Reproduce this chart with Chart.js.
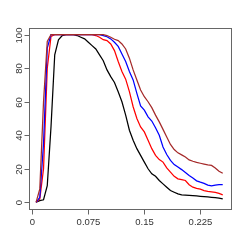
<!DOCTYPE html>
<html>
<head>
<meta charset="utf-8">
<script src="https://cdn.jsdelivr.net/npm/chart.js@4"></script>
<style>
  html, body { margin: 0; padding: 0; background: #fff; }
  #wrap { width: 245px; height: 245px; }
</style>
</head>
<body>
<div id="wrap"><canvas id="chart" width="245" height="245"></canvas></div>
<script>
// ------------------ Data ------------------
const xValues = [0.005, 0.010, 0.015, 0.020, 0.025, 0.030, 0.035, 0.040, 0.045, 0.050,
  0.055, 0.060, 0.065, 0.070, 0.075, 0.080, 0.085, 0.090, 0.095, 0.100,
  0.105, 0.110, 0.115, 0.120, 0.125, 0.130, 0.135, 0.140, 0.145, 0.150,
  0.155, 0.160, 0.165, 0.170, 0.175, 0.180, 0.185, 0.190, 0.195, 0.200,
  0.205, 0.210, 0.215, 0.220, 0.225, 0.230, 0.235, 0.240, 0.245, 0.250, 0.255];

const blackSeries = [0, 1, 1.5, 10, 45, 88, 97, 99.5, 100, 100,
  100, 99.5, 98.5, 97.5, 95.5, 93.5, 91.5, 88, 84.5, 79,
  75, 71.5, 66, 60, 52, 43, 37, 32, 28, 24,
  20, 17, 15.5, 13, 11, 9, 7, 6, 5, 4.4,
  4.3, 4.2, 4, 3.8, 3.6, 3.4, 3.2, 3, 2.8, 2.5, 2];

const redSeries = [0, 2, 20, 80, 99, 100, 100, 100, 100, 100,
  100, 100, 100, 100, 100, 100, 99.5, 98.5, 97, 96.5,
  94.5, 90.5, 84, 78, 73.5, 66, 57, 50, 45, 42,
  37, 32, 28, 25.5, 24, 20.5, 18, 15.5, 14, 13.5,
  13, 10.5, 9, 8.3, 7.8, 7, 6.5, 6.2, 5.9, 5.3, 4.4];

const blueSeries = [0, 3, 35, 92, 100, 100, 100, 100, 100, 100,
  100, 100, 100, 100, 100, 100, 100, 100, 99.5, 98.8,
  97.5, 95.5, 93, 88.5, 84, 78, 73, 65, 57.5, 55,
  51, 48.5, 44.5, 40, 33, 28.5, 25, 22.5, 21, 19.5,
  17.8, 16, 14.5, 12.8, 12, 11.3, 10.3, 9.8, 10.3, 10.5, 10.5];

const brownSeries = [0, 8, 60, 96, 100, 100, 100, 100, 100, 100,
  100, 100, 100, 100, 100, 100, 100, 100, 100, 99.5,
  98.5, 97.3, 96.5, 94.5, 91.5, 86, 79, 73, 67, 63,
  60, 56.5, 52, 48, 43.5, 39, 34.5, 31.5, 29.5, 28.3,
  27, 25.3, 24.5, 23.8, 23.3, 22.8, 22.3, 22, 20.5, 18.5, 17.3];

const xTicks = [0, 0.075, 0.15, 0.225];
const xTickLabels = ["0", "0.075", "0.15", "0.225"];
const yTicks = [0, 20, 40, 60, 80, 100];
const yTickLabels = ["0", "20", "40", "60", "80", "100"];

// ------------------ Helpers ------------------
function toPoints(series) {
    return xValues.map((x, i) => ({ x, y: series[i] }));
}

function makeDataset(label, series, color, order) {
    return {
        label,
        data: toPoints(series),
        borderColor: color,
        borderWidth: 1.25,
        pointRadius: 0,
        fill: false,
        tension: 0,
        order
    };
}

// R-style box, ticks and labels drawn on the canvas
const rAxesPlugin = {
    id: "rAxes",
    afterDraw(chart) {
        const { ctx, chartArea, scales } = chart;
        const xs = scales.x, ys = scales.y;
        ctx.save();
        ctx.strokeStyle = "#666";
        ctx.lineWidth = 1;
        ctx.strokeRect(Math.round(chartArea.left) + 0.5, Math.round(chartArea.top) + 0.5,
            Math.round(chartArea.right - chartArea.left), Math.round(chartArea.bottom - chartArea.top));

        ctx.fillStyle = "#333";
        ctx.font = "9.5px 'Liberation Sans', Arial, sans-serif";

        // x ticks
        const yb = Math.round(chartArea.bottom) + 0.5;
        ctx.textAlign = "center";
        ctx.textBaseline = "middle";
        xTicks.forEach((v, i) => {
            const px = Math.round(xs.getPixelForValue(v)) + 0.5;
            ctx.beginPath();
            ctx.moveTo(px, yb);
            ctx.lineTo(px, yb + 5);
            ctx.stroke();
            ctx.fillText(xTickLabels[i], px, 222);
        });

        // y ticks, labels rotated like R
        const xl = Math.round(chartArea.left) + 0.5;
        yTicks.forEach((v, i) => {
            const py = Math.round(ys.getPixelForValue(v)) + 0.5;
            ctx.beginPath();
            ctx.moveTo(xl, py);
            ctx.lineTo(xl - 5, py);
            ctx.stroke();
            ctx.save();
            ctx.translate(19, py);
            ctx.rotate(-Math.PI / 2);
            ctx.fillText(yTickLabels[i], 0, 0);
            ctx.restore();
        });
        ctx.restore();
    }
};

// ------------------ Chart ------------------
function renderChart() {
    new Chart(document.getElementById("chart"), {
        type: "line",
        data: {
            datasets: [
                makeDataset("brown", brownSeries, "#a52a2a", 1),
                makeDataset("blue", blueSeries, "#0000ff", 2),
                makeDataset("red", redSeries, "#ff0000", 3),
                makeDataset("black", blackSeries, "#000000", 4)
            ]
        },
        options: {
            responsive: false,
            animation: false,
            devicePixelRatio: 1,
            layout: { padding: { left: 28.6, right: 14.8, top: 28, bottom: 36 } },
            plugins: {
                legend: { display: false },
                tooltip: { enabled: false }
            },
            scales: {
                x: { type: "linear", min: -0.005, max: 0.265, display: false },
                y: { type: "linear", min: -4, max: 104, display: false }
            }
        },
        plugins: [rAxesPlugin]
    });
}

document.addEventListener("DOMContentLoaded", renderChart);
</script>
</body>
</html>
